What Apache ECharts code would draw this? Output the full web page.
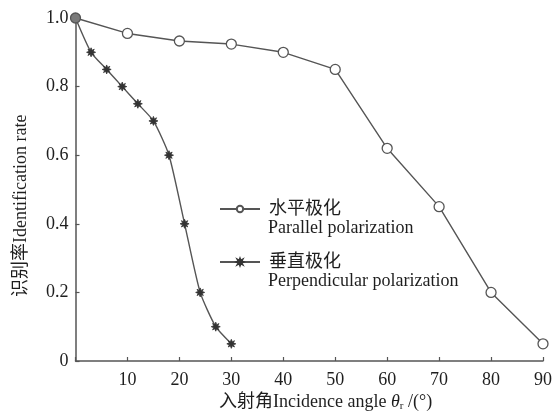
<!DOCTYPE html>
<html>
<head>
<meta charset="utf-8">
<script src="https://cdn.jsdelivr.net/npm/echarts@6/dist/echarts.min.js"></script>
<style>
  html, body { margin: 0; padding: 0; background: #fff; }
  #chart { width: 555px; height: 414px; }
</style>
</head>
<body>
<div id="chart"></div>
<script>
// Incidence angle (degrees) and identification rate for each polarization
const parallelAngles = [0, 10, 20, 30, 40, 50, 60, 70, 80, 90];
const parallelRates = [1.0, 0.955, 0.933, 0.924, 0.90, 0.85, 0.62, 0.45, 0.20, 0.05];

const perpAngles = [0, 3, 6, 9, 12, 15, 18, 21, 24, 27, 30];
const perpRates = [1.0, 0.90, 0.85, 0.80, 0.75, 0.70, 0.60, 0.40, 0.20, 0.10, 0.05];

const xTicks = [0, 10, 20, 30, 40, 50, 60, 70, 80, 90];
const yTicks = [0, 0.2, 0.4, 0.6, 0.8, 1.0];

const seriesNames = ['水平极化', '垂直极化'];
const seriesNamesEn = ['Parallel polarization', 'Perpendicular polarization'];

const LINE = '#555555';
const TEXT = '#1e1e1e';
const FONT = '"Liberation Serif", "Noto Sans CJK SC", serif';

// chunky eight-pointed star used for the perpendicular markers
const STAR = 'path://M50,0 L61,28 L85,15 L72,39 L100,50 L72,61 L85,85 L61,72 L50,100 L39,72 L15,85 L28,61 L0,50 L28,39 L15,15 L39,28 Z';

const pairs = (xs, ys) => xs.map((x, i) => [x, ys[i]]);

const parallelData = pairs(parallelAngles, parallelRates).map((p, i) =>
  i === 0 ? { value: p, symbolSize: 10, itemStyle: { color: '#7a7a7a', borderColor: '#555' } } : p
);

const chart = echarts.init(document.getElementById('chart'), null, { renderer: 'canvas' });

chart.setOption({
  backgroundColor: '#fff',
  animation: false,
  grid: { left: 75.5, right: 7.5, top: 18, bottom: 53, containLabel: false },
  xAxis: {
    type: 'value',
    min: xTicks[0],
    max: xTicks[xTicks.length - 1],
    interval: 10,
    axisLine: { lineStyle: { color: LINE, width: 1.5 } },
    axisTick: { inside: true, length: 4, lineStyle: { color: LINE, width: 1.2 } },
    splitLine: { show: false },
    axisLabel: {
      color: TEXT, fontFamily: FONT, fontSize: 18, margin: 10,
      formatter: v => (v === 0 ? '' : String(v))
    }
  },
  yAxis: {
    type: 'value',
    min: yTicks[0],
    max: yTicks[yTicks.length - 1],
    interval: 0.2,
    axisLine: { show: true, lineStyle: { color: LINE, width: 1.5 } },
    axisTick: { show: true, inside: true, length: 4, lineStyle: { color: LINE, width: 1.2 } },
    splitLine: { show: false },
    axisLabel: {
      color: TEXT, fontFamily: FONT, fontSize: 18, margin: 7,
      formatter: v => (v === 0 ? '0' : v.toFixed(1))
    }
  },
  legend: {
    orient: 'vertical',
    left: 214,
    top: 195,
    itemWidth: 40,
    itemHeight: 8,
    itemGap: 35,
    data: seriesNames,
    textStyle: { color: TEXT, fontFamily: FONT, fontSize: 18, lineHeight: 18, padding: [0, 0, 0, 4] }
  },
  graphic: [
    {
      type: 'text', left: 268, top: 219,
      style: { text: seriesNamesEn[0], fill: TEXT, font: '18px ' + FONT }
    },
    {
      type: 'text', left: 268, top: 272,
      style: { text: seriesNamesEn[1], fill: TEXT, font: '18px ' + FONT }
    },
    {
      type: 'text', left: 219, top: 393,
      style: {
        text: '{t|入射角Incidence angle }{i|θ}{s|r}{t| /(°)}',
        rich: {
          t: { fill: TEXT, font: '18px ' + FONT },
          i: { fill: TEXT, font: 'italic 18px ' + FONT },
          s: { fill: TEXT, font: '11px ' + FONT, padding: [8, 0, 0, 0] }
        }
      }
    },
    {
      type: 'text', x: 21, y: 297, rotation: Math.PI / 2,
      style: { text: '识别率Identification rate', fill: TEXT, font: '18px ' + FONT, align: 'left', verticalAlign: 'middle' }
    }
  ],
  series: [
    {
      name: seriesNames[0],
      type: 'line',
      data: parallelData,
      symbol: 'circle',
      symbolSize: 10,
      lineStyle: { color: LINE, width: 1.4 },
      itemStyle: { color: '#fff', borderColor: LINE, borderWidth: 1.3 },
      z: 3
    },
    {
      name: seriesNames[1],
      type: 'line',
      data: pairs(perpAngles, perpRates),
      symbol: STAR,
      symbolSize: 9,
      smooth: 0.2,
      lineStyle: { color: LINE, width: 1.4 },
      itemStyle: { color: '#333', borderColor: '#333', borderWidth: 0.8 },
      z: 2
    }
  ]
});
</script>
</body>
</html>
